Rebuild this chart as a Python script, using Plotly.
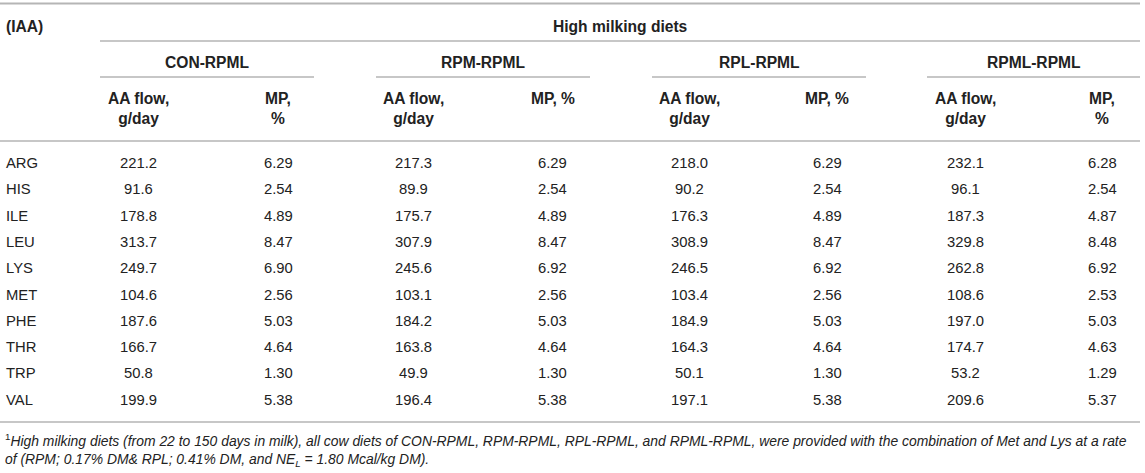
import plotly.graph_objects as go

amino_acids = ["ARG", "HIS", "ILE", "LEU", "LYS", "MET", "PHE", "THR", "TRP", "VAL"]
diets = ["CON-RPML", "RPM-RPML", "RPL-RPML", "RPML-RPML"]
flow_header = "AA flow,<br>g/day"
mp_headers = ["MP,<br>%", "MP, %", "MP, %", "MP,<br>%"]

con_flow = [221.2, 91.6, 178.8, 313.7, 249.7, 104.6, 187.6, 166.7, 50.8, 199.9]
con_mp = [6.29, 2.54, 4.89, 8.47, 6.90, 2.56, 5.03, 4.64, 1.30, 5.38]
rpm_flow = [217.3, 89.9, 175.7, 307.9, 245.6, 103.1, 184.2, 163.8, 49.9, 196.4]
rpm_mp = [6.29, 2.54, 4.89, 8.47, 6.92, 2.56, 5.03, 4.64, 1.30, 5.38]
rpl_flow = [218.0, 90.2, 176.3, 308.9, 246.5, 103.4, 184.9, 164.3, 50.1, 197.1]
rpl_mp = [6.29, 2.54, 4.89, 8.47, 6.92, 2.56, 5.03, 4.64, 1.30, 5.38]
rpml_flow = [232.1, 96.1, 187.3, 329.8, 262.8, 108.6, 197.0, 174.7, 53.2, 209.6]
rpml_mp = [6.28, 2.54, 4.87, 8.48, 6.92, 2.53, 5.03, 4.63, 1.29, 5.37]

corner_label = "(IAA)"
super_header = "High milking diets"
footnote_1 = ("<sup>1</sup><i>High milking diets (from 22 to 150 days in milk), all cow diets of "
              "CON-RPML, RPM-RPML, RPL-RPML, and RPML-RPML, were provided with the combination "
              "of Met and Lys at a rate</i>")
footnote_2 = "<i>of (RPM; 0.17% DM& RPL; 0.41% DM, and NE<sub>L</sub> = 1.80 Mcal/kg DM).</i>"

flows = [con_flow, rpm_flow, rpl_flow, rpml_flow]
mps = [con_mp, rpm_mp, rpl_mp, rpml_mp]

# ---- layout geometry (pixels) ----
W, H = 1145, 473
RIGHT = 1140
TXT = "#222222"
LINE = "#b5b5b5"
FONT = "Liberation Sans, Arial, sans-serif"
BODY = 14.8
BOLD = 15.6
FOOT = 13.9

flow_x = [138, 413.7, 689.4, 965]
mp_x = [278, 552.5, 827, 1102]
group_l = [100, 376, 652, 927]
group_w = 214
row_y0, row_dy = 163, 26.3

annotations = []
shapes = []


def txt(x, y, s, anchor="center", bold=False, size=None):
    annotations.append(dict(
        x=x, y=y, xref="x", yref="y", text=(f"<b>{s}</b>" if bold else s),
        showarrow=False, xanchor=anchor, yanchor="middle",
        align=anchor if anchor != "center" else "center",
        font=dict(family=FONT, size=size or (BOLD if bold else BODY), color=TXT)))


def hline(x0, x1, y, w=1.3):
    shapes.append(dict(type="line", xref="x", yref="y", x0=x0, x1=x1, y0=y, y1=y,
                       line=dict(color=LINE, width=w)))


# rules
hline(0, RIGHT, 3.5, 2.2)
hline(group_l[0], RIGHT, 41)
for i in range(len(diets)):
    x1 = RIGHT if i == len(diets) - 1 else group_l[i] + group_w
    hline(group_l[i], x1, 77)
hline(0, RIGHT, 141)
hline(0, RIGHT, 422)

# header text
txt(4, 26, corner_label, anchor="left", bold=True)
txt((group_l[0] + RIGHT) / 2, 26, super_header, bold=True)
for i, d in enumerate(diets):
    x1 = RIGHT if i == len(diets) - 1 else group_l[i] + group_w
    txt((group_l[i] + x1) / 2, 62, d, bold=True)
    txt(flow_x[i], 108, flow_header, bold=True)
    if "<br>" in mp_headers[i]:
        txt(mp_x[i], 108, mp_headers[i], bold=True)
    else:
        txt(mp_x[i], 98, mp_headers[i], bold=True)

# body
for k, aa in enumerate(amino_acids):
    y = row_y0 + row_dy * k
    txt(4, y, aa, anchor="left")
    for i in range(len(diets)):
        txt(flow_x[i], y, f"{flows[i][k]:.1f}")
        txt(mp_x[i], y, f"{mps[i][k]:.2f}")

# footnote
txt(3, 440, footnote_1, anchor="left", size=FOOT)
txt(3, 460, footnote_2, anchor="left", size=FOOT)

fig = go.Figure()
fig.add_trace(go.Scatter(x=[0, W], y=[0, H], mode="markers", marker=dict(opacity=0),
                         hoverinfo="skip", showlegend=False))
fig.update_layout(
    width=W, height=H, margin=dict(l=0, r=0, t=0, b=0),
    paper_bgcolor="white", plot_bgcolor="white",
    xaxis=dict(range=[0, W], visible=False, fixedrange=True),
    yaxis=dict(range=[H, 0], visible=False, fixedrange=True),
    annotations=annotations, shapes=shapes, showlegend=False,
)
fig.write_html("out.html", config={"displayModeBar": False},
               post_script="document.body.style.margin='0';document.body.style.overflow='hidden';")
